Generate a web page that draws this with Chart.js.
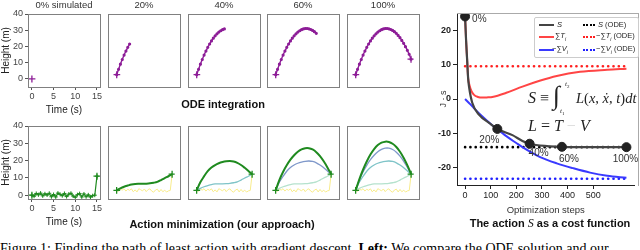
<!DOCTYPE html>
<html>
<head>
<meta charset="utf-8">
<script src="https://cdn.jsdelivr.net/npm/chart.js@4.4.1/dist/chart.umd.min.js"></script>
<style>
body{margin:0;width:640px;height:250px;overflow:hidden;background:#fff;position:relative;font-family:"Liberation Sans",Arial,sans-serif;}
canvas{position:absolute}
.box{position:absolute;border:1px solid #808080;box-sizing:border-box;pointer-events:none}
.ttl{position:absolute;font-size:9.5px;line-height:12px;color:#333;transform:translateX(-50%);white-space:nowrap}
.sec{position:absolute;font-size:11px;line-height:14px;font-weight:bold;color:#111;transform:translateX(-50%);white-space:nowrap}
.math{position:absolute;font-family:"Liberation Serif","DejaVu Serif",serif;color:#222;white-space:nowrap}
#legend{position:absolute;left:534px;top:17px;width:105px;height:41px;border:1px solid #ccc;border-radius:2px;background:rgba(255,255,255,.85);box-sizing:border-box;font-size:7.5px;color:#222}
#legend .it{position:absolute;white-space:nowrap;line-height:10px}
#legend .ln{position:absolute;height:0}
#caption{position:absolute;left:0;top:242px;font-family:"Liberation Serif",serif;font-size:14px;line-height:14px;color:#000;white-space:nowrap}
</style>
</head>
<body>

<div id="panels"></div>

<canvas id="actionChart" width="210" height="216" style="left:430px;top:0px"></canvas>
<div class="box" style="left:457px;top:13px;width:182px;height:173px;border-color:#aaa;border-left:none;border-bottom:none"></div>

<div id="legend">
  <div class="ln" style="left:4px;top:6px;width:15px;border-top:2.5px solid #444"></div>
  <div class="it" style="left:22px;top:2px"><i>S</i></div>
  <div class="ln" style="left:4px;top:18px;width:15px;border-top:2px solid #ff4545"></div>
  <div class="it" style="left:20px;top:13px">∑<i>T<sub style="font-size:5px">i</sub></i></div>
  <div class="ln" style="left:4px;top:31px;width:15px;border-top:2px solid #3a3aff"></div>
  <div class="it" style="left:17px;top:26px">−∑<i>V<sub style="font-size:5px">i</sub></i></div>
  <div class="ln" style="left:48px;top:6px;width:12px;border-top:2.5px dotted #000"></div>
  <div class="it" style="left:63px;top:2px"><i>S</i> (ODE)</div>
  <div class="ln" style="left:48px;top:18px;width:12px;border-top:2.5px dotted #ff2020"></div>
  <div class="it" style="left:61px;top:13px">−∑<i>T<sub style="font-size:5px">i</sub></i> (ODE)</div>
  <div class="ln" style="left:48px;top:31px;width:12px;border-top:2.5px dotted #2020ff"></div>
  <div class="it" style="left:61px;top:26px">−∑<i>V<sub style="font-size:5px">i</sub></i> (ODE)</div>
</div>

<div class="math" style="left:528px;top:89px;font-size:16px;line-height:18px"><i>S</i> ≡</div>
<div class="math" style="left:553px;top:81px;font-size:26px;line-height:30px;font-style:italic">∫</div>
<div class="math" style="left:565px;top:80px;font-size:7px;line-height:8px"><i>t</i><sub style="font-size:5px">2</sub></div>
<div class="math" style="left:560px;top:107px;font-size:7px;line-height:8px"><i>t</i><sub style="font-size:5px">1</sub></div>
<div class="math" style="left:576px;top:89px;font-size:14.5px;line-height:18px"><i>L</i>(<i>x</i>, <i>ẋ</i>, <i>t</i>)<i>dt</i></div>
<div class="math" style="left:528px;top:117px;font-size:16px;line-height:18px"><i>L</i> = <i>T</i> <span style="color:#d8d8d8">−</span> <i>V</i></div>

<div class="sec" style="left:223px;top:97px">ODE integration</div>
<div class="sec" style="left:222px;top:217px">Action minimization (our approach)</div>
<div class="sec" style="left:550px;top:216px">The action <i style="font-family:'Liberation Serif',serif;font-weight:normal;font-size:12px">S</i> as a cost function</div>

<div id="caption">Figure 1: Finding the path of least action with gradient descent. <b>Left:</b> We compare the ODE solution and our</div>

<script>
// ---------- small panels: height of the ball over time ----------
const timeFine = [0,0.5,1,1.5,2,2.5,3,3.5,4,4.5,5,5.5,6,6.5,7,7.5,8,8.5,9,9.5,10,10.5,11,11.5,12,12.5,13,13.5,14,14.5,15];
const timeCoarse = [0,1,2,3,4,5,6,7,8,9,10,11,12,13,14,15];
const odeHeight = [0,3.9,7.6,11,14.2,17.1,19.8,22.2,24.4,26.4,28.1,29.6,30.8,31.8,32.6,33.1,33.4,33.4,33.2,32.7,32,31.1,29.9,28.4,26.8,24.8,22.7,20.3,17.6,14.8,11.2];
const odeShown = [1, 8, 16, 23, 31];
const panelTitles = ['0% simulated', '20%', '40%', '60%', '100%'];

const guessHeight = [0,-0.6,1.0,0.2,1.2,-0.4,0.8,0.1,1.1,-0.9,0.4,-1.0,1.2,0.5,-0.3,1.0,-0.8,0.6,1.1,-0.5,-1.2,0.3,0.9,-1.0,0.7,-0.9,0.2,-1.1,-0.3,0.0,11];
const iter20 = [0,1.4,2.5,3.3,4.0,4.4,4.5,4.5,4.6,4.8,5.2,5.8,7.0,8.4,9.6,11];
const iter40 = [0,5.5,9.5,13,15.5,17.2,18.4,19.2,19.7,19.9,19.6,18.7,17.2,15.3,13.2,11];
const iter60 = [0,7,12.5,17,20.8,23.8,26.2,27.8,28.6,28.6,27.7,25.9,23.2,19.7,15.6,11];
const iter100 = [0,7.5,14,19.6,24.3,28,30.7,32.3,33,32.8,31.6,29.4,26.2,22,17,11];
const bcTime = [0, 15];
const bcHeight = [0, 11];

const timeTicks = [0, 5, 10, 15];
const heightTicks = [0, 10, 20, 30, 40];

// ---------- right chart: action during optimisation ----------
const stepS = [0,4,8,12,16,28,55,95,126,185,224,252,320,378,500,630];
const actionS = [24,17,11.5,6,3.3,-1.1,-4.6,-7,-8.7,-10.5,-12.2,-13,-13.7,-13.9,-14,-14];
const stepT = [0,4,8,12,16,25,35,50,67,90,106,161,224,291,358,449,555,630];
const kineticT = [24,17,11.5,6,4.4,2.3,1.2,0.6,0.4,0.5,0.6,1.8,3.6,5.3,6.7,7.9,8.5,8.8];
const stepV = [0,20,55,106,134,161,200,224,291,358,421,488,555,630];
const potentialV = [0,-1.5,-4.2,-7.6,-9.2,-10.8,-12.8,-14,-16.8,-18.7,-20.1,-21.4,-22.3,-22.9];
const odeRange = [0, 630];
const odeS = -14, odeT = 9.5, odeV = -23.2;
const pctStep = [0, 126, 252, 378, 630];
const pctS = [24, -8.7, -13, -13.9, -14];
const pctLabels = ['0%', '20%', '40%', '60%', '100%'];
const stepTicks = [0, 100, 200, 300, 400, 500];
const jTicks = [-20, -10, 0, 10, 20];

const FONT = '"Liberation Sans", Arial, sans-serif';
const pts = (xs, ys) => ys.map((y, i) => ({x: xs[i], y: y}));
const flat = (xs, v) => xs.map(x => ({x: x, y: v}));

const PURPLE = '#8d1d97', GREEN = '#1f8a1f', YELLOW = '#f8ec8c';
const MINT = '#b5e2cd', TEAL = '#7fc4c8', SLATE = '#7f98ca';

const panelLeft = [28, 108, 188, 267, 347];
const panelW = 72, panelH = 73;
const rowTop = [14, 126];
const rowYMin = [-5, -2.2];

function line(data, color, width, extra) {
  return Object.assign({data: data, borderColor: color, backgroundColor: color, borderWidth: width,
    pointRadius: 0, fill: false, tension: 0.35}, extra || {});
}
function cross(data, color) {
  return {data: data, showLine: false, pointStyle: 'cross', pointRadius: 3.5,
    pointBorderWidth: 1.3, borderColor: color, backgroundColor: color};
}

function panelOptions(row, axes) {
  const tickFont = {family: FONT, size: 9};
  const x = {type: 'linear', min: -0.9, max: 15.7, display: axes};
  const y = {min: rowYMin[row], max: 40, display: axes};
  if (axes) {
    Object.assign(x, {
      afterBuildTicks: s => { s.ticks = timeTicks.map(v => ({value: v})); },
      afterFit: s => { s.height = 29; },
      grid: {drawOnChartArea: false, tickLength: 3, color: '#555'},
      border: {display: false},
      ticks: {font: tickFont, color: '#444', padding: 1, maxRotation: 0},
      title: {display: true, text: 'Time (s)', font: {family: FONT, size: 10}, color: '#222', padding: {top: 0, bottom: 0}}
    });
    Object.assign(y, {
      afterBuildTicks: s => { s.ticks = heightTicks.map(v => ({value: v})); },
      afterFit: s => { s.width = 28; },
      grid: {drawOnChartArea: false, tickLength: 3, color: '#555'},
      border: {display: false},
      ticks: {font: tickFont, color: '#444', padding: 2},
      title: {display: true, text: 'Height (m)', font: {family: FONT, size: 10}, color: '#222', padding: {top: 0, bottom: 0}}
    });
  }
  return {
    responsive: false, animation: false, events: [],
    layout: {padding: axes ? {top: 14, right: 6, left: 0, bottom: 0} : 0},
    plugins: {legend: {display: false}, tooltip: {enabled: false}},
    scales: {x: x, y: y}
  };
}

function topDatasets(i) {
  const n = odeShown[i];
  const sets = [cross([{x: bcTime[0], y: bcHeight[0]}], PURPLE)];
  if (i === 4) sets.push(cross([{x: timeFine[n - 1], y: odeHeight[n - 1]}], PURPLE));
  if (n > 1) sets.push(line(pts(timeFine.slice(0, n), odeHeight.slice(0, n)), PURPLE, 1.4,
    {pointRadius: 0.9, tension: 0.3}));
  return sets;
}

// earlier iterations shown faintly behind the current one (newest first)
const history = [
  [],
  [],
  [[iter20, TEAL]],
  [[iter40, SLATE], [iter20, MINT]],
  [[iter60, SLATE], [iter40, TEAL], [iter20, MINT]]
];
const current = [guessHeight, iter20, iter40, iter60, iter100];

function bottomDatasets(i) {
  const ends = cross(pts(bcTime, bcHeight), GREEN);
  if (i === 0) {
    return [ends, line(pts(timeFine, guessHeight), GREEN, 1.2,
      {tension: 0, pointStyle: 'cross', pointRadius: 2, pointBorderWidth: 1})];
  }
  const sets = [ends, line(pts(timeCoarse, current[i]), GREEN, 2)];
  history[i].forEach(h => sets.push(line(pts(timeCoarse, h[0]), h[1], 1.3)));
  sets.push(line(pts(timeFine, guessHeight), YELLOW, 1, {tension: 0}));
  return sets;
}

const holder = document.getElementById('panels');
for (let row = 0; row < 2; row++) {
  for (let i = 0; i < 5; i++) {
    const c = document.createElement('canvas');
    if (i === 0) {
      c.width = 106; c.height = 116;
      c.style.left = '0px'; c.style.top = (rowTop[row] - 14) + 'px';
    } else {
      c.width = panelW; c.height = panelH;
      c.style.left = panelLeft[i] + 'px'; c.style.top = rowTop[row] + 'px';
    }
    holder.appendChild(c);
    new Chart(c, {
      type: 'line',
      data: {datasets: row === 0 ? topDatasets(i) : bottomDatasets(i)},
      options: panelOptions(row, i === 0)
    });
    const b = document.createElement('div');
    b.className = 'box';
    b.style.cssText = `left:${panelLeft[i]}px;top:${rowTop[row]}px;width:${panelW + 1}px;height:${panelH + 1}px`;
    holder.appendChild(b);
    if (row === 0) {
      const t = document.createElement('div');
      t.className = 'ttl';
      t.style.left = (panelLeft[i] + panelW / 2) + 'px';
      t.style.top = '-1px';
      t.textContent = panelTitles[i];
      holder.appendChild(t);
    }
  }
}

// labels next to the big dots
const pctOffset = [[7, 3, 'left'], [-8, 11, 'center'], [9, 10, 'center'], [7, 12, 'center'], [-1, 12, 'center']];
const pctLabelPlugin = {
  id: 'pctLabels',
  afterDatasetsDraw(chart) {
    const meta = chart.getDatasetMeta(0);
    const ctx = chart.ctx;
    ctx.save();
    ctx.font = '10px ' + FONT;
    ctx.fillStyle = '#333';
    ctx.textBaseline = 'middle';
    meta.data.forEach((p, k) => {
      ctx.textAlign = pctOffset[k][2];
      ctx.fillText(pctLabels[k], p.x + pctOffset[k][0], p.y + pctOffset[k][1]);
    });
    ctx.restore();
  }
};

const dotted = (data, color) => ({data: data, borderColor: color, borderWidth: 2.6, borderDash: [0.1, 5.2],
  borderCapStyle: 'round', pointRadius: 0, fill: false});

new Chart(document.getElementById('actionChart'), {
  type: 'line',
  data: {
    datasets: [
      {data: pts(pctStep, pctS), showLine: false, pointRadius: 4.5, backgroundColor: '#222', borderColor: '#222'},
      {data: pts(stepS, actionS), borderColor: '#444', borderWidth: 2.2, pointRadius: 0, cubicInterpolationMode: 'monotone'},
      {data: pts(stepT, kineticT), borderColor: '#ff4545', borderWidth: 2, pointRadius: 0, cubicInterpolationMode: 'monotone'},
      {data: pts(stepV, potentialV), borderColor: '#3a3aff', borderWidth: 2, pointRadius: 0, cubicInterpolationMode: 'monotone'},
      dotted(flat(odeRange, odeS), '#000'),
      dotted(flat(odeRange, odeT), '#ff2020'),
      dotted(flat(odeRange, odeV), '#2020ff')
    ]
  },
  options: {
    responsive: false, animation: false, events: [],
    layout: {padding: {top: 13, right: 1, left: 0, bottom: 0}},
    plugins: {legend: {display: false}, tooltip: {enabled: false}},
    scales: {
      x: {
        type: 'linear', min: -31.5, max: 661.5,
        afterBuildTicks: s => { s.ticks = stepTicks.map(v => ({value: v})); },
        afterFit: s => { s.height = 31; },
        grid: {drawOnChartArea: false, tickLength: 4, color: '#222'},
        border: {display: true, color: '#222', width: 1},
        ticks: {font: {family: FONT, size: 9}, color: '#222', padding: 1, maxRotation: 0},
        title: {display: true, text: 'Optimization steps', font: {family: FONT, size: 9.5}, color: '#333', padding: {top: 2, bottom: 0}}
      },
      y: {
        min: -25, max: 25,
        afterBuildTicks: s => { s.ticks = jTicks.map(v => ({value: v})); },
        afterFit: s => { s.width = 27; },
        grid: {drawOnChartArea: false, tickLength: 4, color: '#222'},
        border: {display: true, color: '#222', width: 1},
        ticks: {font: {family: FONT, size: 9, weight: 'bold'}, color: '#222', padding: 2},
        title: {display: true, text: 'J · s', font: {family: FONT, size: 9}, color: '#333', padding: {top: 8, bottom: 0}}
      }
    }
  },
  plugins: [pctLabelPlugin]
});
</script>
</body>
</html>
